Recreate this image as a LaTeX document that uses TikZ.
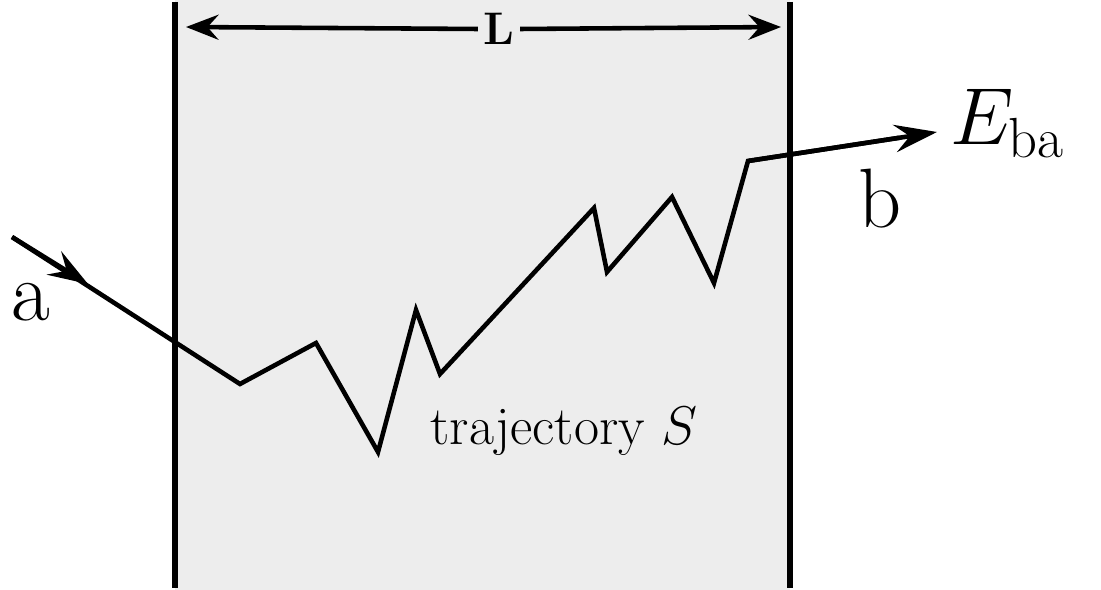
\documentclass[tikz,border=0pt]{standalone}
\usepackage{fix-cm}
\usepackage{amsmath}
\usepackage{fontspec}
\usepackage{tikz}
\usetikzlibrary{arrows.meta, calc}
\definecolor{cellgray}{HTML}{EDEDED}

\begin{document}
\begin{tikzpicture}[
  x=0.02cm, y=-0.02cm,
  wall/.style={line width=3.2pt, black},
  traj/.style={line width=2.6pt, black, line join=miter},
  span/.style={line width=2.6pt, -{Stealth[length=6.5mm, width=5mm, inset=2.2mm]}},
  tip/.style={-{Stealth[length=8.5mm, width=5.5mm, inset=3mm]}},
  midtip/.style={-{Stealth[length=8mm, width=5.5mm, inset=3mm]}},
  biglabel/.style={font=\fontsize{48}{52}\selectfont, inner sep=0pt},
  smalllabel/.style={font=\fontsize{31}{34}\selectfont, inner sep=0pt}
]
  \useasboundingbox (0,0) rectangle (1101,590);
  \fill[cellgray] (175,0) rectangle (790,590);

  % walls of the slab
  \coordinate (lwt) at (175,2);
  \coordinate (lwb) at (175,588);
  \coordinate (rwt) at (790,2);
  \coordinate (rwb) at (790,588);
  \draw[wall] (lwt) -- (lwb);
  \draw[wall] (rwt) -- (rwb);

  % width of the slab
  \node[font=\fontsize{26}{29}\selectfont\bfseries, fill=cellgray, inner sep=3pt] (len) at (499,29) {L};
  \coordinate (spl) at (186,27);
  \coordinate (spr) at (781,27);
  \draw[span] (len.west) -- (spl);
  \draw[span] (len.east) -- (spr);

  % trajectory points
  \coordinate (p0) at (12,237);
  \coordinate (p1) at (88,284);
  \coordinate (p2) at (240,384);
  \coordinate (p3) at (316,343);
  \coordinate (p4) at (378,452);
  \coordinate (p5) at (416,310);
  \coordinate (p6) at (440,374);
  \coordinate (p7) at (594,208);
  \coordinate (p8) at (607,272);
  \coordinate (p9) at (672,197);
  \coordinate (p10) at (714,283);
  \coordinate (p11) at (748,161);
  \coordinate (p12) at (937,132);

  \draw[traj] (p0) -- (p2) -- (p3) -- (p4) -- (p5) -- (p6) -- (p7)
    -- (p8) -- (p9) -- (p10) -- (p11) -- ($(p11)!0.8!(p12)$);
  \draw[traj, midtip] (p0) -- (p1);
  \draw[traj, tip] (p11) -- (p12);

  % labels
  \node[biglabel, anchor=base] (lba) at (31,321) {a};
  \node[biglabel, anchor=base] (lbb) at (880,228) {b};
  \node[font=\fontsize{46}{50}\selectfont, inner sep=0pt, anchor=base west] (lbe) at (950,145) {$E_{\mathrm{ba}}$};
  \node[smalllabel, anchor=base] (lbs) at (564,445) {trajectory $S$};
\end{tikzpicture}
\end{document}
